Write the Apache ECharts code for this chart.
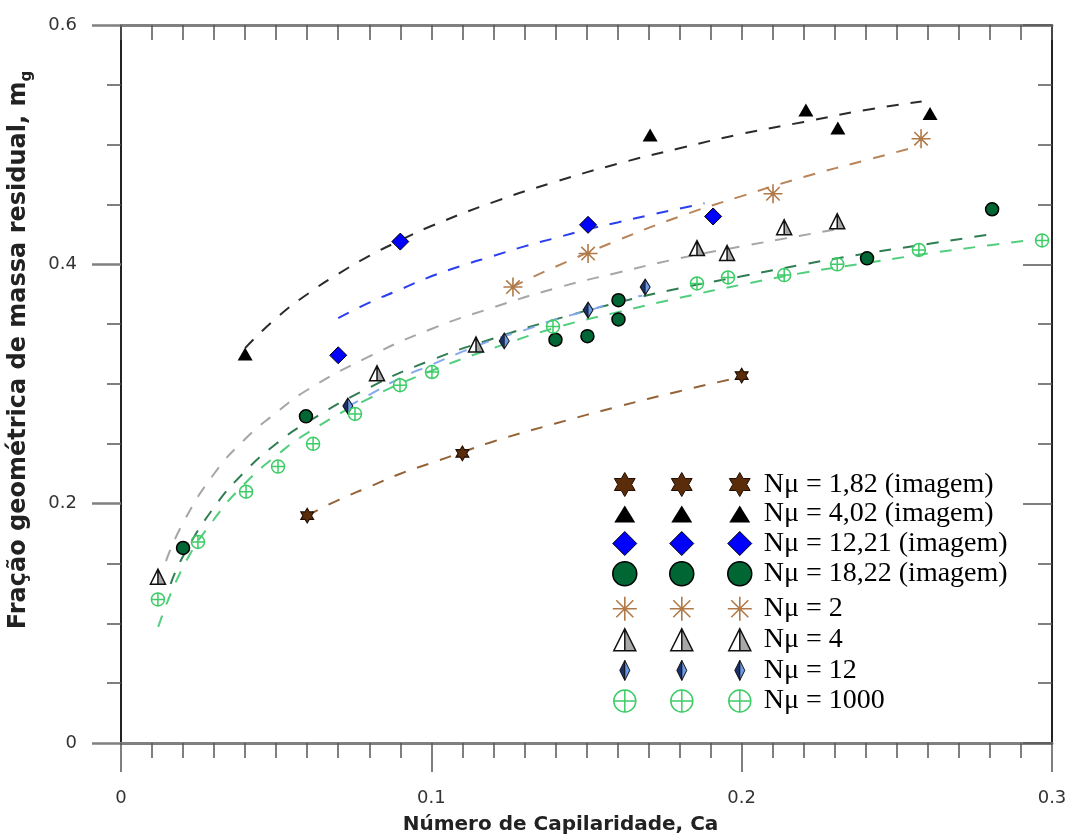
<!DOCTYPE html>
<html><head><meta charset="utf-8">
<script src="https://cdn.jsdelivr.net/npm/echarts@6/dist/echarts.min.js"></script>
<style>html,body{margin:0;padding:0;background:#fff}#chart{width:1070px;height:837px}</style>
</head><body><div id="chart"></div>
<script>
// ---- tick labels & legend names ----
const xTickLabels = ['0', '0.1', '0.2', '0.3'];
const yTickLabels = ['0', '0.2', '0.4', '0.6'];
const legendNames = ['Nμ = 1,82 (imagem)', 'Nμ = 4,02 (imagem)', 'Nμ = 12,21 (imagem)', 'Nμ = 18,22 (imagem)',
                     'Nμ = 2', 'Nμ = 4', 'Nμ = 12', 'Nμ = 1000'];

// ---- measured points (Ca, mg) ----
const ca182 = [0.060, 0.110, 0.200];
const mg182 = [0.190, 0.242, 0.307];
const ca402 = [0.040, 0.1705, 0.2207, 0.231, 0.2607];
const mg402 = [0.325, 0.508, 0.529, 0.514, 0.526];
const ca1221 = [0.070, 0.090, 0.1505, 0.1908];
const mg1221 = [0.324, 0.419, 0.433, 0.440];
const ca1822 = [0.020, 0.0596, 0.140, 0.1503, 0.1603, 0.1603, 0.2404, 0.2807];
const mg1822 = [0.163, 0.273, 0.337, 0.340, 0.354, 0.370, 0.405, 0.446];
const ca2 = [0.1263, 0.1505, 0.2101, 0.2578];
const mg2 = [0.381, 0.409, 0.459, 0.505];
const ca4 = [0.0119, 0.0825, 0.1144, 0.1856, 0.1953, 0.2137, 0.2308];
const mg4 = [0.139, 0.309, 0.333, 0.4136, 0.4095, 0.431, 0.436];
const ca12 = [0.0731, 0.1235, 0.1505, 0.1689];
const mg12 = [0.2816, 0.336, 0.3618, 0.381];
const ca1000 = [0.0119, 0.0248, 0.0403, 0.0506, 0.0619, 0.0754, 0.0899, 0.1002, 0.1392, 0.1856, 0.1956, 0.2137, 0.2308, 0.2571, 0.2968];
const mg1000 = [0.120, 0.168, 0.210, 0.231, 0.250, 0.275, 0.299, 0.310, 0.348, 0.384, 0.389, 0.391, 0.400, 0.412, 0.420];

// ---- dashed trend curves ----
const fitCa182 = [0.06, 0.07, 0.08, 0.09, 0.10, 0.11, 0.12, 0.14, 0.16, 0.18, 0.20];
const fitMg182 = [0.190, 0.203, 0.214, 0.225, 0.234, 0.243, 0.252, 0.267, 0.281, 0.294, 0.306];
const fitCa402 = [0.04, 0.05, 0.06, 0.07, 0.08, 0.09, 0.10, 0.12, 0.14, 0.16, 0.18, 0.20, 0.22, 0.24, 0.258];
const fitMg402 = [0.330, 0.355, 0.375, 0.392, 0.407, 0.420, 0.432, 0.452, 0.469, 0.484, 0.497, 0.509, 0.519, 0.529, 0.536];
const fitCa1221 = [0.07, 0.08, 0.09, 0.10, 0.11, 0.12, 0.13, 0.14, 0.15, 0.16, 0.17, 0.188];
const fitMg1221 = [0.355, 0.368, 0.379, 0.390, 0.399, 0.407, 0.415, 0.422, 0.429, 0.435, 0.441, 0.451];
const fitCa1822 = [0.016, 0.02, 0.03, 0.04, 0.05, 0.06, 0.08, 0.10, 0.12, 0.14, 0.16, 0.18, 0.20, 0.22, 0.24, 0.26, 0.28];
const fitMg1822 = [0.133, 0.156, 0.197, 0.227, 0.250, 0.268, 0.297, 0.320, 0.338, 0.354, 0.368, 0.380, 0.390, 0.400, 0.409, 0.417, 0.425];
const fitCa2 = [0.126, 0.14, 0.16, 0.18, 0.20, 0.22, 0.24, 0.2575];
const fitMg2 = [0.381, 0.398, 0.420, 0.440, 0.457, 0.473, 0.487, 0.499];
const fitCa4 = [0.0145, 0.02, 0.03, 0.04, 0.05, 0.06, 0.08, 0.10, 0.12, 0.14, 0.16, 0.18, 0.20, 0.23];
const fitMg4 = [0.152, 0.184, 0.225, 0.254, 0.276, 0.295, 0.323, 0.346, 0.364, 0.380, 0.393, 0.405, 0.415, 0.429];
const fitCa12 = [0.073, 0.08, 0.09, 0.10, 0.11, 0.12, 0.13, 0.14, 0.15, 0.16, 0.168];
const fitMg12 = [0.281, 0.291, 0.305, 0.316, 0.327, 0.337, 0.345, 0.354, 0.361, 0.369, 0.374];
const fitCa1000 = [0.012, 0.02, 0.03, 0.04, 0.05, 0.06, 0.08, 0.10, 0.12, 0.14, 0.16, 0.18, 0.20, 0.22, 0.24, 0.26, 0.28, 0.295];
const fitMg1000 = [0.097, 0.147, 0.187, 0.217, 0.240, 0.259, 0.288, 0.311, 0.330, 0.347, 0.360, 0.372, 0.383, 0.393, 0.401, 0.409, 0.416, 0.421];

// ---- symbols ----
const SYM = {
  star: 'path://M0,-10L2.887,-5L8.66,-5L5.774,0L8.66,5L2.887,5L0,10L-2.887,5L-8.66,5L-5.774,0L-8.66,-5L-2.887,-5Z',
  tri: 'triangle',
  dia: 'diamond',
  circ: 'circle',
  ast: 'path://M0,-10L0,10M-10,0L10,0M-7.07,-7.07L7.07,7.07M-7.07,7.07L7.07,-7.07',
  halfTri: 'path://M0,-10L10,10L-10,10ZM0,-10L0,10',
  halfDia: 'path://M0,-10L6,0L0,10L-6,0ZM0,-10L0,10',
  circPlus: 'path://M10,0A10,10,0,1,1,-10,0A10,10,0,1,1,10,0ZM-10,0L10,0M0,-10L0,10'
};
const PAD = 'path://M-12,-14M12,14';
const LEG = {
  star: PAD + 'M0,-12L3.464,-6L10.392,-6L6.928,0L10.392,6L3.464,6L0,12L-3.464,6L-10.392,6L-6.928,0L-10.392,-6L-3.464,-6Z',
  tri: PAD + 'M0,-8.5L10.5,8.5L-10.5,8.5Z',
  dia: PAD + 'M0,-12L12,0L0,12L-12,0Z',
  circ: PAD + 'M12,0A12,12,0,1,1,-12,0A12,12,0,1,1,12,0Z',
  ast: PAD + 'M0,-12L0,12M-12,0L12,0M-8.5,-8.5L8.5,8.5M-8.5,8.5L8.5,-8.5',
  halfTri: PAD + 'M0,-11L11,11L-11,11ZM0,-11L0,11',
  halfDia: PAD + 'M0,-10L5,0L0,10L-5,0ZM0,-10L0,10',
  circPlus: PAD + 'M11,0A11,11,0,1,1,-11,0A11,11,0,1,1,11,0ZM-11,0L11,0M0,-11L0,11'
};
const grad = (a, b) => ({type: 'linear', x: 0, y: 0, x2: 1, y2: 0,
  colorStops: [{offset: 0, color: a}, {offset: 0.5, color: a}, {offset: 0.5, color: b}, {offset: 1, color: b}]});

const pairs = (xs, ys) => xs.map((x, i) => [x, ys[i]]);

const defs = [
  {xs: ca182, ys: mg182, fx: fitCa182, fy: fitMg182, sym: 'star', size: [13, 15], color: '#5b2c0a', border: '#1e0d00', bw: 1, lbw: 1, line: '#956338'},
  {xs: ca402, ys: mg402, fx: fitCa402, fy: fitMg402, sym: 'tri', size: [15, 13], color: '#000000', border: '#000000', bw: 0, lbw: 0, line: '#2b2b2b'},
  {xs: ca1221, ys: mg1221, fx: fitCa1221, fy: fitMg1221, sym: 'dia', size: [17, 17], color: '#0000ff', border: '#000000', bw: 1, lbw: 1, line: '#2b3ff0'},
  {xs: ca1822, ys: mg1822, fx: fitCa1822, fy: fitMg1822, sym: 'circ', size: [13, 13], color: '#006633', border: '#000000', bw: 1.5, lbw: 1.5, line: '#2f7d52'},
  {xs: ca2, ys: mg2, fx: fitCa2, fy: fitMg2, sym: 'ast', size: [19, 19], color: 'rgba(0,0,0,0)', border: '#b07a48', bw: 1.6, lbw: 1.6, line: '#b8845a'},
  {xs: ca4, ys: mg4, fx: fitCa4, fy: fitMg4, sym: 'halfTri', size: [15, 15], color: grad('#ffffff', '#a8a8a8'), border: '#111111', bw: 1.5, lbw: 1.5, line: '#a6a6a6'},
  {xs: ca12, ys: mg12, fx: fitCa12, fy: fitMg12, sym: 'halfDia', size: [10, 16], color: grad('#1c2f66', '#6a9be8'), border: '#111111', bw: 1, lbw: 1, line: '#85a8ee'},
  {xs: ca1000, ys: mg1000, fx: fitCa1000, fy: fitMg1000, sym: 'circPlus', size: [13, 13], color: 'rgba(0,0,0,0)', border: '#3dcc66', bw: 1.5, lbw: 1.5, line: '#52cf7e'}
];

const series = [];
defs.forEach((d, i) => {
  series.push({
    name: 'fit ' + legendNames[i], type: 'line', data: pairs(d.fx, d.fy), smooth: true,
    symbol: 'none', silent: true, z: 2, xAxisIndex: 0, yAxisIndex: 0,
    lineStyle: {color: d.line, width: 2, type: [12, 12]}
  });
});
defs.forEach((d, i) => {
  series.push({
    name: legendNames[i], type: 'scatter', data: pairs(d.xs, d.ys), z: 3,
    xAxisIndex: 0, yAxisIndex: 0,
    symbol: SYM[d.sym], symbolSize: d.size,
    itemStyle: {color: d.color, borderColor: d.border, borderWidth: d.bw, opacity: 1},
    emphasis: {disabled: true}
  });
});

// ---- legends: three icon columns, two groups ----
const legends = [];
const colLefts = [612, 669, 727];
const groupTops = [470, 594];
const groupGaps = [1, 1.4];
for (let g = 0; g < 2; g++) {
  for (let c = 0; c < 3; c++) {
    legends.push({
      orient: 'vertical', left: colLefts[c], top: groupTops[g], padding: 0,
      itemWidth: 24, itemHeight: 28, itemGap: groupGaps[g], selectedMode: false,
      data: legendNames.slice(g * 4, g * 4 + 4).map((n, k) => {
        const d = defs[g * 4 + k];
        return {name: n, icon: LEG[d.sym], itemStyle: {borderWidth: d.lbw}};
      }),
      formatter: c < 2 ? () => '' : '{name}',
      textStyle: {fontFamily: "'Liberation Serif','Times New Roman',serif", fontSize: 28, lineHeight: 28,
                  color: '#000', padding: [0, 0, 0, 7]}
    });
  }
}

const sans = "'DejaVu Sans', sans-serif";
const tickCol = '#555';
const option = {
  animation: false,
  backgroundColor: '#ffffff',
  grid: {left: 121, right: 18, top: 25, bottom: 94, containLabel: false, outerBoundsMode: 'none'},
  legend: legends,
  xAxis: [
    {
      type: 'value', position: 'bottom', min: 0, max: 0.3, interval: 0.1,
      axisLine: {show: true, onZero: false, lineStyle: {color: '#808080', width: 3}},
      axisTick: {show: true, length: 29, lineStyle: {color: tickCol, width: 1.5}},
      minorTick: {show: true, splitNumber: 10, length: 15, lineStyle: {color: tickCol, width: 1.5}},
      splitLine: {show: false},
      axisLabel: {margin: 46, fontFamily: sans, fontSize: 18, color: '#333',
                  formatter: v => xTickLabels[Math.round(v / 0.1)]},
      name: 'Número de Capilaridade, Ca', nameLocation: 'middle', nameGap: 72,
      nameTextStyle: {fontFamily: sans, fontWeight: 'bold', fontSize: 20, color: '#222', padding: [0, 52, 0, 0]}
    },
    {
      type: 'value', position: 'top', min: 0, max: 0.3, interval: 0.1,
      axisLine: {show: true, onZero: false, lineStyle: {color: '#808080', width: 3}},
      axisTick: {show: true, inside: true, length: 15, lineStyle: {color: tickCol, width: 1.5}},
      minorTick: {show: true, splitNumber: 10, length: 15, lineStyle: {color: tickCol, width: 1.5}},
      splitLine: {show: false}, axisLabel: {show: false}
    }
  ],
  yAxis: [
    {
      type: 'value', position: 'left', min: 0, max: 0.6, interval: 0.2,
      axisLine: {show: true, onZero: false, lineStyle: {color: '#222', width: 2}},
      axisTick: {show: true, length: 29, lineStyle: {color: '#808080', width: 2.5}},
      minorTick: {show: true, splitNumber: 4, length: 14, lineStyle: {color: tickCol, width: 1.5}},
      splitLine: {show: false},
      axisLabel: {margin: 44, fontFamily: sans, fontSize: 18, color: '#333',
                  formatter: v => yTickLabels[Math.round(v / 0.2)]},
      name: '{t|Fração geométrica de massa residual, m}{s|g}',
      nameLocation: 'middle', nameGap: 86, nameRotate: 90,
      nameTextStyle: {
        padding: [0, 0, 0, 68],
        rich: {
          t: {fontFamily: sans, fontWeight: 'bold', fontSize: 24, color: '#222', lineHeight: 32, verticalAlign: 'middle'},
          s: {fontFamily: sans, fontWeight: 'bold', fontSize: 15, color: '#222', lineHeight: 16, padding: [16, 0, 0, 0], verticalAlign: 'bottom'}
        }
      }
    },
    {
      type: 'value', position: 'right', min: 0, max: 0.6, interval: 0.2,
      axisLine: {show: true, onZero: false, lineStyle: {color: '#222', width: 2}},
      axisTick: {show: true, inside: true, length: 29, lineStyle: {color: tickCol, width: 1.5}},
      minorTick: {show: true, splitNumber: 4, length: 14, lineStyle: {color: tickCol, width: 1.5}},
      splitLine: {show: false}, axisLabel: {show: false}
    }
  ],
  series: series
};
const chart = echarts.init(document.getElementById('chart'));
chart.setOption(option);
</script>
</body></html>
